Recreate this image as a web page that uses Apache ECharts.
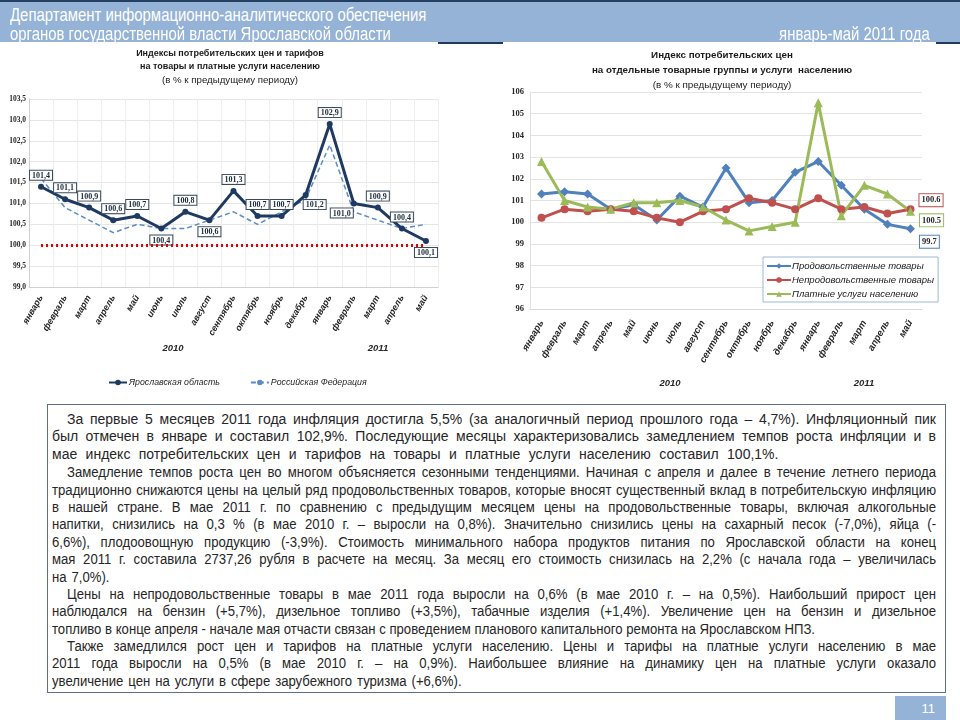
<!DOCTYPE html>
<html><head><meta charset="utf-8">
<script src="https://cdn.jsdelivr.net/npm/echarts@6/dist/echarts.min.js"></script>
<style>
html,body{margin:0;padding:0;background:#fff;}
#wrap{position:relative;width:960px;height:720px;overflow:hidden;background:#fff;}
#chart{position:absolute;left:0;top:0;width:960px;height:720px;}
#hdr{position:absolute;left:0;top:0;width:960px;height:42px;background:#95b3d7;border-top:2px solid #243f60;box-sizing:border-box;color:#fff;font-family:"Liberation Sans",Arial,sans-serif;font-size:18.2px;}
#hdr div{position:absolute;white-space:nowrap;transform:scaleX(0.82);}
#hdr .l1{left:10px;top:3px;transform-origin:0 0;}
#hdr .l2{left:10px;top:22px;transform-origin:0 0;}
#hdr .r{right:30px;top:22px;transform-origin:100% 0;}
.bar{position:absolute;height:2px;background:#1f3a5f;top:42px;}
#txt{position:absolute;left:47px;top:404px;width:899px;height:289px;border:1px solid #5f7180;box-sizing:border-box;padding:6px 0 0 4px;font-family:"Liberation Sans",Arial,sans-serif;color:#262626;background:#fff;}
#txt div{height:17.4px;line-height:17.4px;white-space:nowrap;text-align:justify;text-align-last:justify;box-sizing:border-box;}
#txt div.w{width:884px;font-size:14px;}
#txt div.w.in{padding-left:15px;}
#txt div.w.last{word-spacing:4.5px;}
#txt div.n{width:1022px;font-size:15.2px;transform:scaleX(0.865);transform-origin:0 0;}
#txt div.n.in{padding-left:17.3px;}
#txt div.n.last{word-spacing:1.5px;}
#txt div.last{text-align-last:left;}
#pg{position:absolute;left:895px;top:696px;width:51px;height:24px;background:#95b3d7;color:#fff;font-family:"Liberation Sans",sans-serif;font-size:13px;text-align:right;box-sizing:border-box;padding-right:11px;line-height:26px;}
</style></head>
<body><div id="wrap">
<div id="chart"></div>
<div id="hdr"><div class="l1">Департамент информационно-аналитического обеспечения</div><div class="l2">органов государственной власти Ярославской области</div><div class="r">январь-май 2011 года</div></div>
<div class="bar" style="left:438px;width:65px"></div>
<div class="bar" style="left:936px;width:24px"></div>
<div id="txt">
<div class="w in">За первые 5 месяцев 2011 года инфляция достигла 5,5% (за аналогичный период прошлого года – 4,7%). Инфляционный пик</div>
<div class="w">был отмечен в январе и составил 102,9%. Последующие месяцы характеризовались замедлением темпов роста инфляции и в</div>
<div class="w last">мае индекс потребительских цен и тарифов на товары и платные услуги населению составил 100,1%.</div>
<div class="n in">Замедление темпов роста цен во многом объясняется сезонными тенденциями. Начиная с апреля и далее в течение летнего периода</div>
<div class="n">традиционно снижаются цены на целый ряд продовольственных товаров, которые вносят существенный вклад в потребительскую инфляцию</div>
<div class="n">в нашей стране. В мае 2011 г. по сравнению с предыдущим месяцем цены на продовольственные товары, включая алкогольные</div>
<div class="n">напитки, снизились на 0,3 % (в мае 2010 г. – выросли на 0,8%). Значительно снизились цены на сахарный песок (-7,0%), яйца (-</div>
<div class="n">6,6%), плодоовощную продукцию (-3,9%). Стоимость минимального набора продуктов питания по Ярославской области на конец</div>
<div class="n">мая 2011 г. составила 2737,26 рубля в расчете на месяц. За месяц его стоимость снизилась на 2,2% (с начала года – увеличилась</div>
<div class="n last">на 7,0%).</div>
<div class="n in">Цены на непродовольственные товары в мае 2011 года выросли на 0,6% (в мае 2010 г. – на 0,5%). Наибольший прирост цен</div>
<div class="n">наблюдался на бензин (+5,7%), дизельное топливо (+3,5%), табачные изделия (+1,4%). Увеличение цен на бензин и дизельное</div>
<div class="n" style="text-align-last:left">топливо в конце апреля - начале мая отчасти связан с проведением планового капитального ремонта на Ярославском НПЗ.</div>
<div class="n in">Также замедлился рост цен и тарифов на платные услуги населению. Цены и тарифы на платные услуги населению в мае</div>
<div class="n">2011 года выросли на 0,5% (в мае 2010 г. – на 0,9%). Наибольшее влияние на динамику цен на платные услуги оказало</div>
<div class="n last">увеличение цен на услуги в сфере зарубежного туризма (+6,6%).</div>
</div>
<div id="pg">11</div>
</div>
<script>
// ---- data ----
const months = ['январь','февраль','март','апрель','май','июнь','июль','август','сентябрь','октябрь','ноябрь','декабрь','январь','февраль','март','апрель','май'];
const yaroslavl = [101.4,101.1,100.9,100.6,100.7,100.4,100.8,100.6,101.3,100.7,100.7,101.2,102.9,101.0,100.9,100.4,100.1];
const russia = [101.6,100.9,100.6,100.3,100.5,100.4,100.4,100.6,100.8,100.5,100.8,101.1,102.4,100.8,100.6,100.4,100.5];
const food = [101.3,101.4,101.3,100.6,100.8,100.1,101.2,100.7,102.5,100.9,101.0,102.3,102.8,101.7,100.6,99.9,99.7];
const nonfood = [100.2,100.6,100.5,100.6,100.5,100.2,100.0,100.5,100.6,101.1,100.9,100.6,101.1,100.6,100.7,100.4,100.6];
const services = [102.8,101.0,100.7,100.6,100.9,100.9,101.0,100.7,100.1,99.6,99.8,100.0,105.5,100.3,101.7,101.3,100.5];
const baseline = 100;
const years = ['2010','2011'];
const leftNames = ['Ярославская область','Российская Федерация'];
const rightNames = ['Продовольственные товары','Непродовольственные товары','Платные услуги населению'];

const chart = echarts.init(document.getElementById('chart'), null, {renderer:'canvas'});
const comma = v => v.toFixed(1).replace('.', ',');
// per-point label placement for the regional series (style, not data)
const labelPlace = {5:{position:'bottom'},7:{position:'bottom'},11:{position:'bottom',offset:[9,-2]},13:{position:'bottom',offset:[-12,-2]},16:{position:'bottom'}};
const boxLabel = {show:true,position:'top',distance:4,formatter:p=>comma(p.value),backgroundColor:'#fff',borderColor:'#3a4a5a',borderWidth:1,padding:[1,2,0,2],fontFamily:'Liberation Serif',fontWeight:'bold',fontSize:8,color:'#1a2a3a'};
const yarData = yaroslavl.map((v,i)=> labelPlace[i] ? {value:v,label:labelPlace[i]} : v);

const catLabel = (fs,m)=>({interval:0,rotate:60,fontStyle:'italic',fontWeight:'bold',fontSize:fs,color:'#262626',fontFamily:'Liberation Sans',margin:m});
const lastLabel = (color, dy)=> (arr)=>arr.map((v,i)=> i===arr.length-1 ? {value:v,label:{show:true,position:'right',distance:5,offset:[0,dy],formatter:p=>p.value.toFixed(1),backgroundColor:'#fff',borderColor:color,borderWidth:1,padding:[2,2,1,2],fontFamily:'Liberation Serif',fontWeight:'bold',fontSize:8.5,color:'#262626'}} : v);

const titleFont = 'bold 9px "Liberation Sans"';
const subFont = '9.7px "Liberation Sans"';
const rTitleFont = 'bold 9.8px "Liberation Sans"';
const rSubFont = '9.9px "Liberation Sans"';
const yearFont = 'italic bold 9.5px "Liberation Sans"';

chart.setOption({
  animation:false,
  grid:[
    {left:29,right:522,top:99,bottom:433,containLabel:false},
    {left:530,right:38,top:92,bottom:411,containLabel:false}
  ],
  xAxis:[
    {gridIndex:0,type:'category',data:months,boundaryGap:true,axisLine:{lineStyle:{color:'#d0d0d0'}},axisTick:{show:false},axisLabel:catLabel(9,9),splitLine:{show:true,lineStyle:{color:'#eeeeee'}}},
    {gridIndex:1,type:'category',data:months,boundaryGap:true,axisLine:{lineStyle:{color:'#d9d9d9'}},axisTick:{show:false},axisLabel:catLabel(9.5,12),splitLine:{show:false}}
  ],
  yAxis:[
    {gridIndex:0,type:'value',min:99,max:103.5,interval:0.5,axisLine:{show:true,lineStyle:{color:'#d0d0d0'}},axisTick:{show:false},splitLine:{lineStyle:{color:'#e6e6e6'}},axisLabel:{formatter:comma,fontFamily:'Liberation Serif',fontWeight:'bold',fontSize:7.5,color:'#262626',margin:3}},
    {gridIndex:1,type:'value',min:96,max:106,interval:1,axisLine:{show:true,lineStyle:{color:'#e0e0e0'}},axisTick:{show:false},splitLine:{lineStyle:{color:'#e3e3e3'}},axisLabel:{fontFamily:'Liberation Serif',fontWeight:'bold',fontSize:8.5,color:'#262626',margin:6}}
  ],
  legend:[
    {data:leftNames,left:103,top:373,itemWidth:18,itemHeight:7,itemGap:30,textStyle:{fontStyle:'italic',fontSize:8.8,color:'#262626',fontFamily:'Liberation Sans',padding:[0,0,0,-3]}},
    {data:rightNames,orient:'vertical',left:763,top:257,itemWidth:24,itemHeight:7,itemGap:4,padding:[4,4,3,3],borderColor:'#9db7d6',borderWidth:1,backgroundColor:'#fff',textStyle:{fontStyle:'italic',fontSize:9.5,color:'#1a1a1a',fontFamily:'Liberation Sans',padding:[0,0,0,-4]}}
  ],
  graphic:[
    {type:'text',x:230,y:49,style:{text:'Индексы потребительских цен и тарифов',font:titleFont,fill:'#1a1a1a',align:'center'}},
    {type:'text',x:230,y:62,style:{text:'на товары и платные услуги населению',font:titleFont,fill:'#1a1a1a',align:'center'}},
    {type:'text',x:230,y:75,style:{text:'(в % к предыдущему периоду)',font:subFont,fill:'#1a1a1a',align:'center'}},
    {type:'text',x:722,y:50,style:{text:'Индекс потребительских цен',font:rTitleFont,fill:'#1a1a1a',align:'center'}},
    {type:'text',x:722,y:65,style:{text:'на отдельные товарные группы и услуги  населению',font:rTitleFont,fill:'#1a1a1a',align:'center'}},
    {type:'text',x:722,y:80,style:{text:'(в % к предыдущему периоду)',font:rSubFont,fill:'#1a1a1a',align:'center'}},
    {type:'text',x:173,y:343,style:{text:years[0],font:yearFont,fill:'#262626',align:'center'}},
    {type:'text',x:378,y:343,style:{text:years[1],font:yearFont,fill:'#262626',align:'center'}},
    {type:'text',x:670,y:378,style:{text:years[0],font:yearFont,fill:'#262626',align:'center'}},
    {type:'text',x:864,y:378,style:{text:years[1],font:yearFont,fill:'#262626',align:'center'}}
  ],
  series:[
    {name:leftNames[1],type:'line',xAxisIndex:0,yAxisIndex:0,data:russia,symbol:'none',lineStyle:{color:'#5b8cc6',width:1.5,type:[5,3]},itemStyle:{color:'#5b8cc6'},z:2},
    {name:leftNames[0],type:'line',xAxisIndex:0,yAxisIndex:0,data:yarData,symbol:'circle',symbolSize:6,lineStyle:{color:'#1f3a60',width:3},itemStyle:{color:'#1f3a60'},label:boxLabel,z:3,
      markLine:{silent:true,symbol:['none','none'],label:{show:false},lineStyle:{color:'#e00000',width:3,type:[2,3]},data:[[{coord:[0,baseline]},{coord:[months.length-1,baseline]}]]}},
    {name:rightNames[0],type:'line',xAxisIndex:1,yAxisIndex:1,data:lastLabel('#4f81bd',13)(food),symbol:'diamond',symbolSize:9,lineStyle:{color:'#4f81bd',width:3},itemStyle:{color:'#4f81bd'},z:3},
    {name:rightNames[1],type:'line',xAxisIndex:1,yAxisIndex:1,data:lastLabel('#c0504d',-9)(nonfood),symbol:'circle',symbolSize:8,lineStyle:{color:'#c0504d',width:3},itemStyle:{color:'#c0504d'},z:3},
    {name:rightNames[2],type:'line',xAxisIndex:1,yAxisIndex:1,data:lastLabel('#9bbb59',9)(services),symbol:'triangle',symbolSize:9,lineStyle:{color:'#9bbb59',width:3},itemStyle:{color:'#9bbb59'},z:3}
  ]
});
</script>
</body></html>
